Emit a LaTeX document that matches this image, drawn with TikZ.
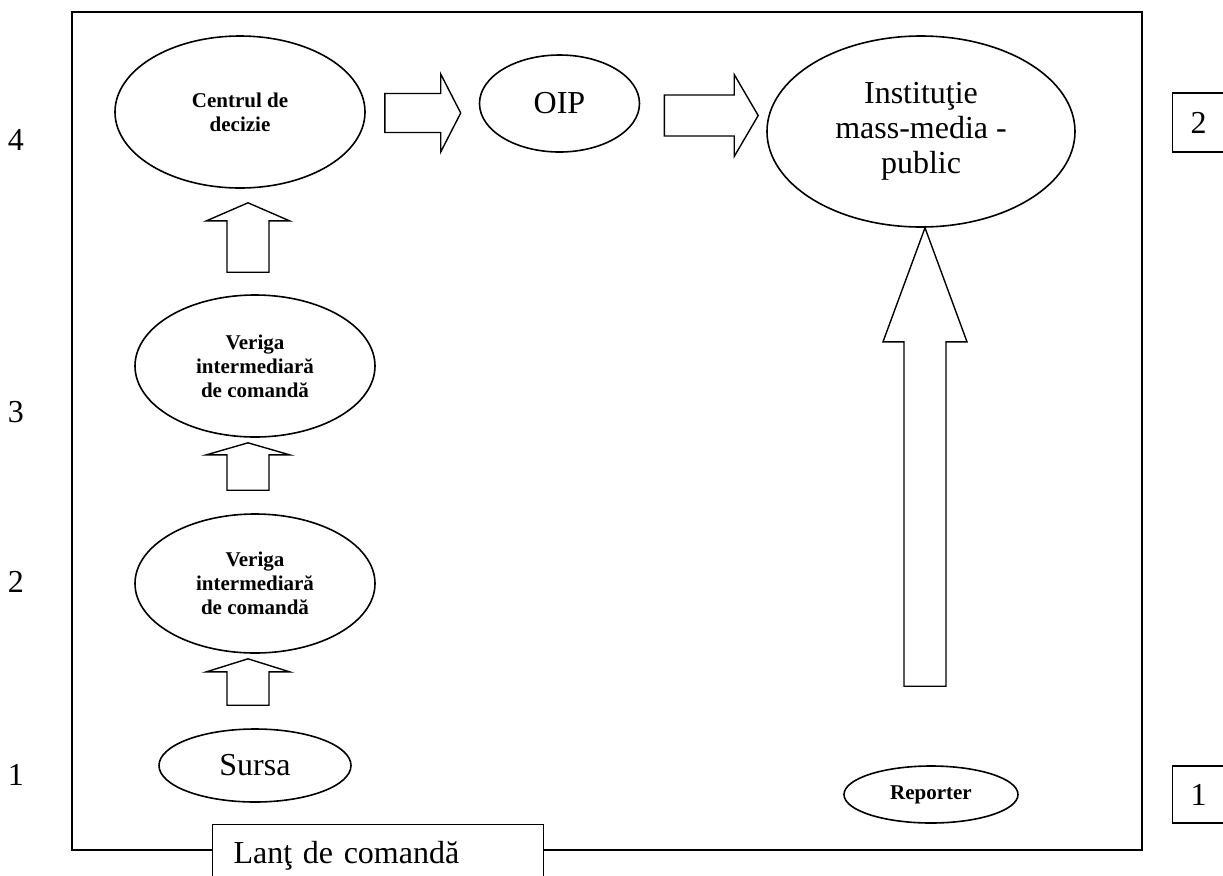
\documentclass[tikz,border=0pt]{standalone}
\usepackage{fontspec}
\setmainfont{Liberation Serif}
\usepackage{tikz}
\usetikzlibrary{shapes.geometric,positioning,calc}

% block arrow: tail, tip, shaft half width, head half width, head length
\newcommand{\fatarrow}[5]{%
  \coordinate (hb) at ($(#2)!#5!(#1)$);
  \draw[blockline] ($(#1)!#3!90:(#2)$) -- ($(hb)!#3!90:(#2)$) -- ($(hb)!#4!90:(#2)$)
    -- (#2) -- ($(hb)!#4!-90:(#2)$) -- ($(hb)!#3!-90:(#2)$) -- ($(#1)!#3!-90:(#2)$) -- cycle;
}

\tikzset{
  oval/.style={ellipse, draw, line width=0.8pt, inner sep=0pt, align=center},
  smalltxt/.style={font=\fontsize{10.5}{12}\selectfont\bfseries},
  bigtxt/.style={font=\fontsize{16}{17.5}\selectfont},
  blockline/.style={line width=0.7pt, fill=white},
  tag/.style={draw, fill=white, line width=0.6pt, align=left, bigtxt}
}

\begin{document}
\begin{tikzpicture}[x=0.5pt,y=-0.5pt]
    \useasboundingbox (0,0) rectangle (1223,875);

    % Frame
    \draw[line width=1.1pt] (72,12) rectangle (1142,850);
    \node[tag, anchor=north west, inner xsep=10.5pt, text width=144.5pt, minimum height=31pt] (lant) at (212,824) {Lanţ de comandă};

    % Levels
    \node[bigtxt] (n4) at (16,140) {4};
    \node[bigtxt] (n3) at (16,412) {3};
    \node[bigtxt] (n2) at (16,582) {2};
    \node[bigtxt] (n1) at (16,775) {1};
    \node[tag, anchor=west, inner xsep=9pt, text width=20pt, minimum height=29.5pt] (r2) at (1172,122.5) {2};
    \node[tag, anchor=west, inner xsep=9pt, text width=20pt, minimum height=28.5pt] (r1) at (1172,794.5) {1};

    % Chain of command
    \node[oval, smalltxt, minimum width=125pt, minimum height=76pt] (cdd) at (240,112) {Centrul de\\decizie};
    \node[oval, smalltxt, minimum width=120pt, minimum height=71pt] (ver3) at (255,366) {Veriga\\intermediară\\de comandă};
    \node[oval, smalltxt, minimum width=120pt, minimum height=69.5pt] (ver2) at (255,583.5) {Veriga\\intermediară\\de comandă};
    \node[oval, bigtxt, minimum width=96pt, minimum height=36.5pt] (sursa) at (255,765.5) {Sursa};

    % Top row
    \node[oval, bigtxt, minimum width=80pt, minimum height=48.5pt] (oip) at (559.5,103.5) {OIP};
    \node[oval, bigtxt, minimum width=154pt, minimum height=95.5pt] (inst) at (921,131.5) {Instituţie\\mass-media -\\public};
    \node[oval, smalltxt, minimum width=87pt, minimum height=28.5pt] (rep) at (931,794.5) {Reporter};

    % Arrow ends
    \coordinate (a1s) at ($(cdd.east)+(19,1)$);
    \coordinate (a1e) at ($(oip.west)+(-18,9.5)$);
    \coordinate (a2s) at ($(oip.east)+(24,12)$);
    \coordinate (a2e) at ($(inst.west)+(-8,-16)$);
    \coordinate (u1s) at ($(ver3.north)+(-7,-22)$);
    \coordinate (u1e) at ($(cdd.south)+(8,14)$);
    \coordinate (u2s) at ($(ver2.north)+(-7,-23)$);
    \coordinate (u2e) at ($(ver3.south)+(-7,5)$);
    \coordinate (u3s) at ($(sursa.north)+(-7,-23)$);
    \coordinate (u3e) at ($(ver2.south)+(-7,5)$);
    \coordinate (bs) at ($(rep.north)+(-6,-79)$);
    \coordinate (be) at ($(inst.south)+(4,0)$);

    % Arrows
    \fatarrow{a1s}{a1e}{9.75pt}{19.5pt}{10pt}
    \fatarrow{a2s}{a2e}{10.25pt}{20.5pt}{12pt}
    \fatarrow{u1s}{u1e}{10.5pt}{20.75pt}{9pt}
    \fatarrow{u2s}{u2e}{10.5pt}{20.75pt}{6pt}
    \fatarrow{u3s}{u3e}{10.5pt}{20.75pt}{6.5pt}
    \fatarrow{bs}{be}{10.5pt}{21pt}{57pt}
\end{tikzpicture}
\end{document}
